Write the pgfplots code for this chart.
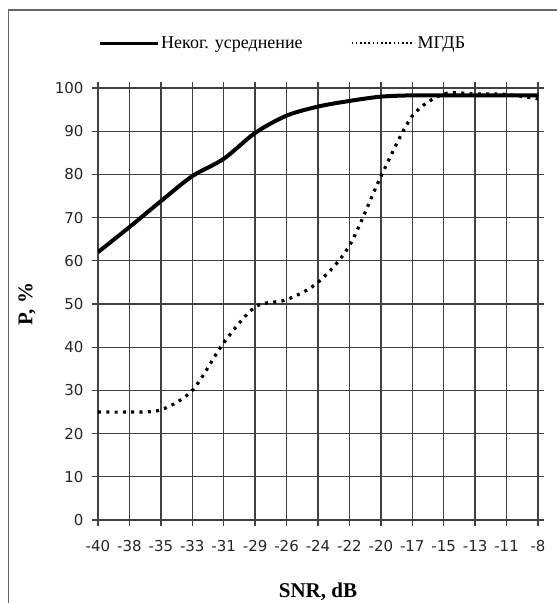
\documentclass[border=0pt]{standalone}
\usepackage{pgfplots}
\pgfplotsset{compat=1.18}
\usepackage{fontspec}
\setmainfont{Liberation Serif}
\newfontfamily\tickfont{DejaVu Sans}
\begin{document}
\begin{tikzpicture}[x=1pt,y=1pt]
\useasboundingbox (0,0) rectangle (557,603);
\draw[black!60, line width=1.5pt] (8.5,-20) -- (8.5,593) -- (600,593);
\begin{axis}[
  at={(98pt,83pt)}, anchor=south west,
  scale only axis, width=440pt, height=432pt,
  xmin=0, xmax=14, ymin=0, ymax=100,
  xtick={0,1,...,14},
  xticklabels={-40,-38,-35,-33,-31,-29,-26,-24,-22,-20,-17,-15,-13,-11,-8},
  ytick={0,10,...,100},
  grid=major,
  grid style={line width=1.3pt, black!75},
  axis line style={line width=1.3pt, black!75},
  tick align=outside, major tick length=6pt,
  tick style={line width=1.3pt, black!75},
  /pgf/number format/assume math mode=true,
  tick label style={font=\tickfont\fontsize{15}{17}\selectfont, text=black!85},
  xticklabel style={yshift=-11pt},
  yticklabel style={xshift=-5pt},
  xlabel={SNR, dB}, ylabel={P, \%},
  label style={font=\bfseries\fontsize{21}{24}\selectfont},
  xlabel style={at={(axis description cs:0.5,0)}, anchor=center, yshift=-72pt},
  ylabel style={at={(axis description cs:-0.1614,0.5)}, anchor=center},
  legend columns=2,
  legend style={at={(axis description cs:0,1.104)}, anchor=west, draw=none,
    fill=none, inner sep=0pt, font=\fontsize{18}{20}\selectfont,
    /tikz/every even column/.append style={column sep=46pt}},
  legend cell align=left,
]
\addplot[black, line width=4pt, smooth, tension=0.5,
  legend image code/.code={\draw[black, line width=3pt] (0pt,0pt) -- (58pt,0pt);}]
  coordinates {(0,62) (1,67.8) (2,73.8) (3,79.6) (4,83.6) (5,89.6) (6,93.6) (7,95.7) (8,97) (9,98) (10,98.3) (11,98.3) (12,98.3) (13,98.3) (14,98.3)};
\addlegendentry{Неког. усреднение}
\addplot[black, line width=3.2pt, dash pattern=on 3pt off 5.3pt, smooth, tension=0.5,
  legend image code/.code={\draw[black, line width=2pt, dash pattern=on 1.6pt off 2.6pt] (0pt,0pt) -- (63pt,0pt);}]
  coordinates {(0,25) (1,25) (2,25.5) (3,30) (4,41) (5,49.3) (6,51) (7,55) (8,63.5) (9,79.5) (10,93.5) (11,98.6) (12,98.6) (13,98.5) (14,97.5)};
\addlegendentry{МГДБ}
\end{axis}
\end{tikzpicture}
\end{document}
